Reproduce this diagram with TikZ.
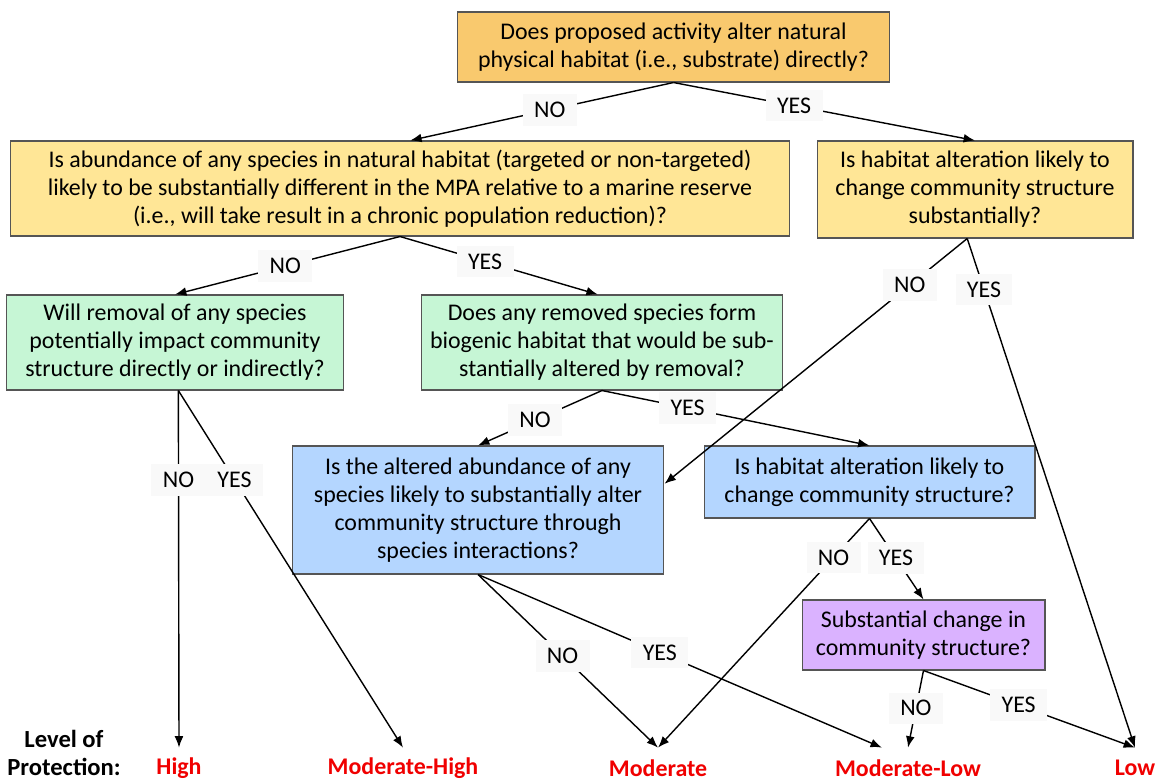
\documentclass[tikz,border=0pt]{standalone}
\usepackage{fontspec}
\setmainfont{Carlito}
\usetikzlibrary{arrows.meta}
\definecolor{qorange}{RGB}{249,201,110}
\definecolor{qyellow}{RGB}{255,230,150}
\definecolor{qgreen}{RGB}{198,246,213}
\definecolor{qblue}{RGB}{180,214,255}
\definecolor{qpurple}{RGB}{218,178,255}
\definecolor{qline}{RGB}{85,85,85}
\definecolor{lblbg}{RGB}{249,249,249}
\definecolor{lvlred}{RGB}{240,0,0}
\begin{document}
\begin{tikzpicture}[x=0.02cm,y=-0.02cm,>={Latex[length=6.5pt,width=5pt]},
    qsty/.style={draw=qline,line width=.6pt,align=center,inner sep=2pt,
      font=\fontsize{13.6}{15.9}\selectfont},
    lblsty/.style={fill=lblbg,inner xsep=6.5pt,inner ysep=4.5pt,
      font=\fontsize{13.6}{15}\selectfont},
    lvlsty/.style={text=lvlred,font=\fontsize{13.6}{15}\selectfont\bfseries,
      minimum height=.8cm,inner sep=1pt},
    arrsty/.style={->,line width=.8pt}]
  \useasboundingbox (0,0) rectangle (1157,781);

  % questions
  \node[qsty,fill=qorange,minimum width=8.66cm,minimum height=1.4cm] (q0) at (673.5,47)
    {Does proposed activity alter natural\\physical habitat (i.e., substrate) directly?};
  \node[qsty,fill=qyellow,minimum width=15.6cm,minimum height=1.9cm] (q1) at (400,188.5)
    {Is abundance of any species in natural habitat (targeted or non-targeted)\\
     likely to be substantially different in the MPA relative to a marine reserve\\
     (i.e., will take result in a chronic population reduction)?};
  \node[qsty,fill=qyellow,minimum width=6.32cm,minimum height=1.94cm] (q2) at (975,189.5)
    {Is habitat alteration likely to\\change community structure\\substantially?};
  \node[qsty,fill=qgreen,minimum width=6.76cm,minimum height=1.9cm] (q3) at (175,342.5)
    {Will removal of any species\\potentially impact community\\structure directly or indirectly?};
  \node[qsty,fill=qgreen,minimum width=7.24cm,minimum height=1.9cm] (q4) at (602,342.5)
    {Does any removed species form\\biogenic habitat that would be sub-\\stantially altered by removal?};
  \node[qsty,fill=qblue,minimum width=7.44cm,minimum height=2.56cm] (q5) at (478,510)
    {Is the altered abundance of any\\species likely to substantially alter\\community structure through\\species interactions?};
  \node[qsty,fill=qblue,minimum width=6.62cm,minimum height=1.44cm] (q6) at (869.5,482)
    {Is habitat alteration likely to\\change community structure?};
  \node[qsty,fill=qpurple,minimum width=4.86cm,minimum height=1.4cm] (q7) at (923.5,635)
    {Substantial change in\\community structure?};

  % level of protection
  \node[align=center,inner sep=0pt,font=\fontsize{14}{16.4}\selectfont\bfseries] (lvl) at (64,753)
    {Level of\\Protection:};
  \node[lvlsty] (high) at (179,768) {High};
  \node[lvlsty] (modhigh) at (403,768) {Moderate-High};
  \node[lvlsty] (moderate) at (658,768) {Moderate};
  \node[lvlsty] (modlow) at (908,768) {Moderate-Low};
  \node[lvlsty] (low) at (1135,768) {Low};

  % connectors
  \draw[arrsty] (q0.south) -- (q1.78) node[lblsty,pos=.47] {NO};
  \draw[arrsty] (q0.south) -- (q2.north) node[lblsty,pos=.40] {YES};
  \draw[arrsty] (q1.south) -- (q3.north) node[lblsty,pos=.51] {NO};
  \draw[arrsty] (q1.south) -- (q4.95) node[lblsty,pos=.43] {YES};
  \draw[arrsty] (q2.-99.4) -- (q5.8.6) node[lblsty,pos=.19] {NO};
  \draw[arrsty] (q2.-99.4) -- (low.north) node[lblsty,pos=.10] {YES};
  \draw[arrsty] (q3.-86.4) -- (high.north) node[lblsty,pos=.25] {NO};
  \draw[arrsty] (q3.-86.4) -- (modhigh.north) node[lblsty,pos=.25] {YES};
  \draw[arrsty] (q4.south) -- (q5.north) node[lblsty,pos=.54] {NO};
  \draw[arrsty] (q4.south) -- (q6.north) node[lblsty,pos=.32] {YES};
  \draw[arrsty] (q5.south) -- (moderate.north) node[lblsty,pos=.47] {NO};
  \draw[arrsty] (q5.south) -- (modlow.142) node[lblsty,pos=.45] {YES};
  \draw[arrsty] (q6.south) -- (moderate.north) node[lblsty,pos=.17] {NO};
  \draw[arrsty] (q6.south) -- (q7.north) node[lblsty,pos=.49] {YES};
  \draw[arrsty] (q7.south) -- (modlow.north) node[lblsty,pos=.49] {NO};
  \draw[arrsty] (q7.south) -- (low.north) node[lblsty,pos=.45] {YES};
\end{tikzpicture}
\end{document}
